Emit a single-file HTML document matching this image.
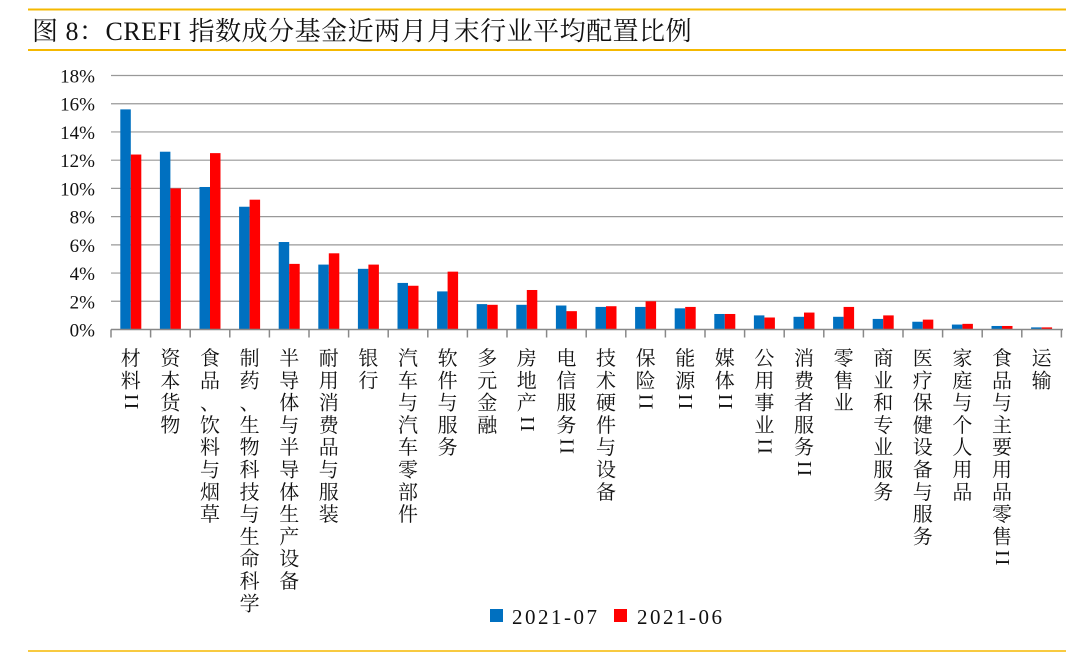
<!DOCTYPE html>
<html><head><meta charset="utf-8"><style>
body{margin:0;background:#fff;width:1080px;height:654px;overflow:hidden}
svg text{font-family:"Liberation Serif","Noto Serif CJK SC",serif;fill:#111}
</style></head><body>
<svg id="s" width="1080" height="654" xmlns="http://www.w3.org/2000/svg">
<line x1="28" y1="9.5" x2="1066" y2="9.5" stroke="#f5b800" stroke-width="2"/>
<line x1="28" y1="50" x2="1066" y2="50" stroke="#f5b800" stroke-width="2"/>
<text x="32" y="40" font-size="26" letter-spacing="0.5">图  8：CREFI 指数成分基金近两月月末行业平均配置比例</text>
<line x1="28" y1="651" x2="1066" y2="651" stroke="#f5b800" stroke-width="1.5"/>
<g id="g"></g>
<rect x="490" y="609" width="13" height="13" fill="#0070c0"/>
<text x="512" y="624" font-size="21" letter-spacing="2.5">2021-07</text>
<rect x="614" y="609" width="13" height="13" fill="#ff0000"/>
<text x="637" y="624" font-size="21" letter-spacing="2.5">2021-06</text>
</svg>
<script>
var d=[["材料II",15.6,12.4],["资本货物",12.6,10.0],["食品、饮料与烟草",10.1,12.5],["制药、生物科技与生命科学",8.7,9.2],["半导体与半导体生产设备",6.2,4.65],["耐用消费品与服装",4.6,5.4],["银行",4.3,4.6],["汽车与汽车零部件",3.3,3.1],["软件与服务",2.7,4.1],["多元金融",1.8,1.75],["房地产II",1.75,2.8],["电信服务II",1.7,1.3],["技术硬件与设备",1.6,1.65],["保险II",1.6,2.0],["能源II",1.5,1.6],["媒体II",1.1,1.1],["公用事业II",1.0,0.85],["消费者服务II",0.9,1.2],["零售业",0.9,1.6],["商业和专业服务",0.75,1.0],["医疗保健设备与服务",0.55,0.7],["家庭与个人用品",0.35,0.4],["食品与主要用品零售II",0.25,0.25],["运输",0.15,0.15]];
var h='',y0=329.5,k=14.11,x0=111,w=39.6;
for(var i=0;i<=18;i+=2){var y=y0-i*k;if(i>0)h+='<line x1="'+x0+'" y1="'+y+'" x2="1063" y2="'+y+'" stroke="#999" stroke-width="1.2"/>';h+='<text x="95" y="'+(y+7)+'" font-size="19" text-anchor="end">'+i+'%</text>';}
d.forEach(function(r,j){var c=x0+w*j+w/2;
h+='<rect x="'+(c-10.5)+'" y="'+(y0-r[1]*k)+'" width="10.5" height="'+(r[1]*k)+'" fill="#0070c0"/>';
h+='<rect x="'+c+'" y="'+(y0-r[2]*k)+'" width="10.5" height="'+(r[2]*k)+'" fill="#ff0000"/>';
var s=r[0],roman=false;if(s.slice(-2)=='II'){s=s.slice(0,-2);roman=true;}
var ch=s.split('');ch.forEach(function(q,m){h+='<text x="'+c+'" y="'+(365+m*22.3)+'" font-size="20" text-anchor="middle">'+q+'</text>';});
if(roman){var yy=365+ch.length*22.3-7;h+='<text x="'+c+'" y="'+yy+'" font-size="20" text-anchor="middle" dominant-baseline="central" transform="rotate(90 '+c+' '+yy+')" letter-spacing="2">II</text>';}
});
h+='<line x1="'+x0+'" y1="'+y0+'" x2="1063" y2="'+y0+'" stroke="#888" stroke-width="1.5"/>';
for(var j=0;j<=24;j++){var x=x0+w*j;h+='<line x1="'+x+'" y1="'+y0+'" x2="'+x+'" y2="'+(y0+8)+'" stroke="#888" stroke-width="1.5"/>';}
document.getElementById('g').innerHTML=h;
</script>
</body></html>
